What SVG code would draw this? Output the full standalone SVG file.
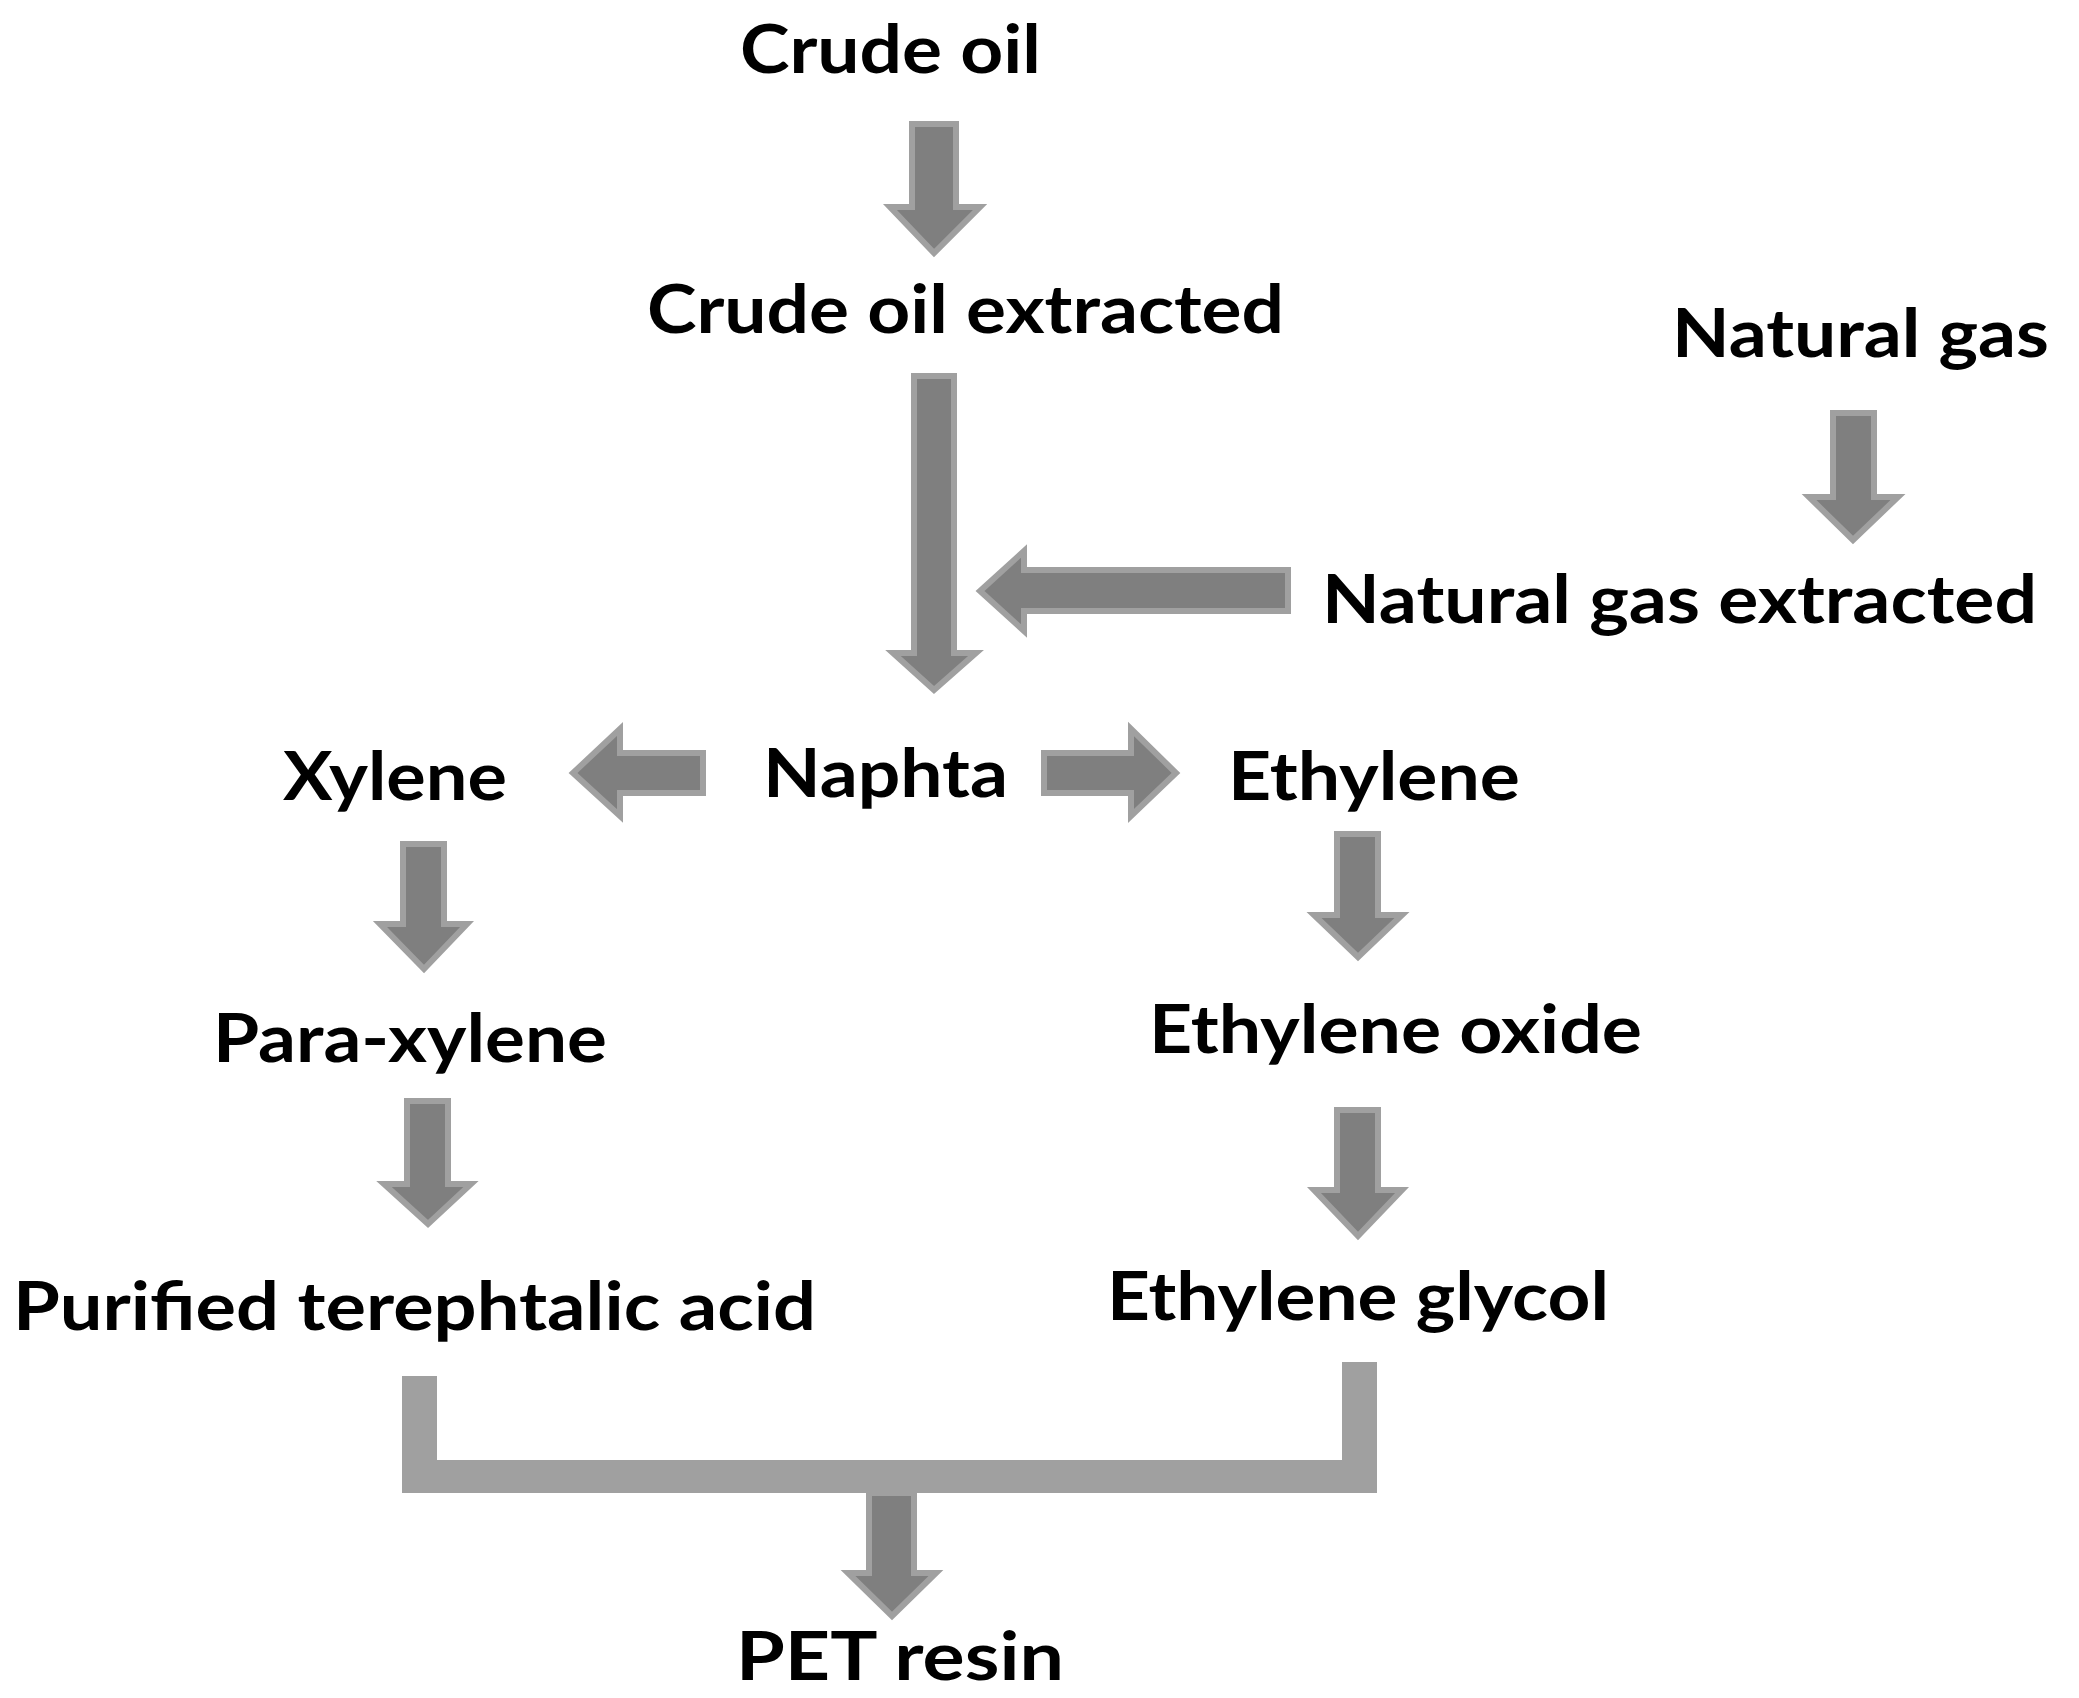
<svg xmlns="http://www.w3.org/2000/svg" width="2079" height="1698" viewBox="0 0 2079 1698">
<style>
text{font-family:Lato,"Open Sans",sans-serif;font-weight:bold;font-size:66px;fill:#000}
.a{fill:#7f7f7f;stroke:#a0a0a0;stroke-width:6}
.b{fill:#a0a0a0}
</style>
<rect width="2079" height="1698" fill="#fff"/>
<g id="connectors">
<polygon class="a" points="912,124 956,124 956,207 980,207 934,253 890,207 912,207"/>
<polygon class="a" points="914,376 954,376 954,653 976,653 934,690 893,653 914,653"/>
<polygon class="a" points="1833,413 1874,413 1874,497 1898,497 1853,540 1809,497 1833,497"/>
<polygon class="a" points="1288,570 1288,611 1024,611 1024,631 980,591 1024,551 1024,570"/>
<polygon class="a" points="703,753 703,793 620,793 620,816 573,773 620,729 620,753"/>
<polygon class="a" points="1044,753 1044,793 1131,793 1131,816 1176,773 1131,729 1131,753"/>
<polygon class="a" points="403,844 444,844 444,924 467,924 424,969 380,924 403,924"/>
<polygon class="a" points="407,1101 448,1101 448,1184 471,1184 428,1224 384,1184 407,1184"/>
<polygon class="a" points="1337,834 1378,834 1378,915 1402,915 1358,957 1314,915 1337,915"/>
<polygon class="a" points="1337,1110 1378,1110 1378,1190 1402,1190 1358,1236 1314,1190 1337,1190"/>
<polygon class="b" points="402,1376 437,1376 437,1460 1342,1460 1342,1362 1377,1362 1377,1493 402,1493"/>
<polygon class="a" points="869,1493 914,1493 914,1573 936,1573 892,1616 848,1573 869,1573"/>
</g>
<g id="crude-oil"><text x="740" y="73" textLength="301" lengthAdjust="spacingAndGlyphs">Crude oil</text></g>
<g id="crude-oil-extracted"><text x="647" y="333" textLength="637" lengthAdjust="spacingAndGlyphs">Crude oil extracted</text></g>
<g id="natural-gas"><text x="1672" y="357" textLength="377" lengthAdjust="spacingAndGlyphs">Natural gas</text></g>
<g id="natural-gas-extracted"><text x="1322" y="623" textLength="715" lengthAdjust="spacingAndGlyphs">Natural gas extracted</text></g>
<g id="naphta"><text x="763" y="797" textLength="245" lengthAdjust="spacingAndGlyphs">Naphta</text></g>
<g id="xylene"><text x="283" y="800" textLength="224" lengthAdjust="spacingAndGlyphs">Xylene</text></g>
<g id="ethylene"><text x="1228" y="800" textLength="292" lengthAdjust="spacingAndGlyphs">Ethylene</text></g>
<g id="para-xylene"><text x="213" y="1062" textLength="394" lengthAdjust="spacingAndGlyphs">Para-xylene</text></g>
<g id="ethylene-oxide"><text x="1149" y="1053" textLength="493" lengthAdjust="spacingAndGlyphs">Ethylene oxide</text></g>
<g id="pta"><text x="13" y="1330" textLength="803" lengthAdjust="spacingAndGlyphs">Purified terephtalic acid</text></g>
<g id="ethylene-glycol"><text x="1107" y="1320" textLength="502" lengthAdjust="spacingAndGlyphs">Ethylene glycol</text></g>
<g id="pet-resin"><text x="736" y="1680" textLength="328" lengthAdjust="spacingAndGlyphs">PET resin</text></g>
</svg>
